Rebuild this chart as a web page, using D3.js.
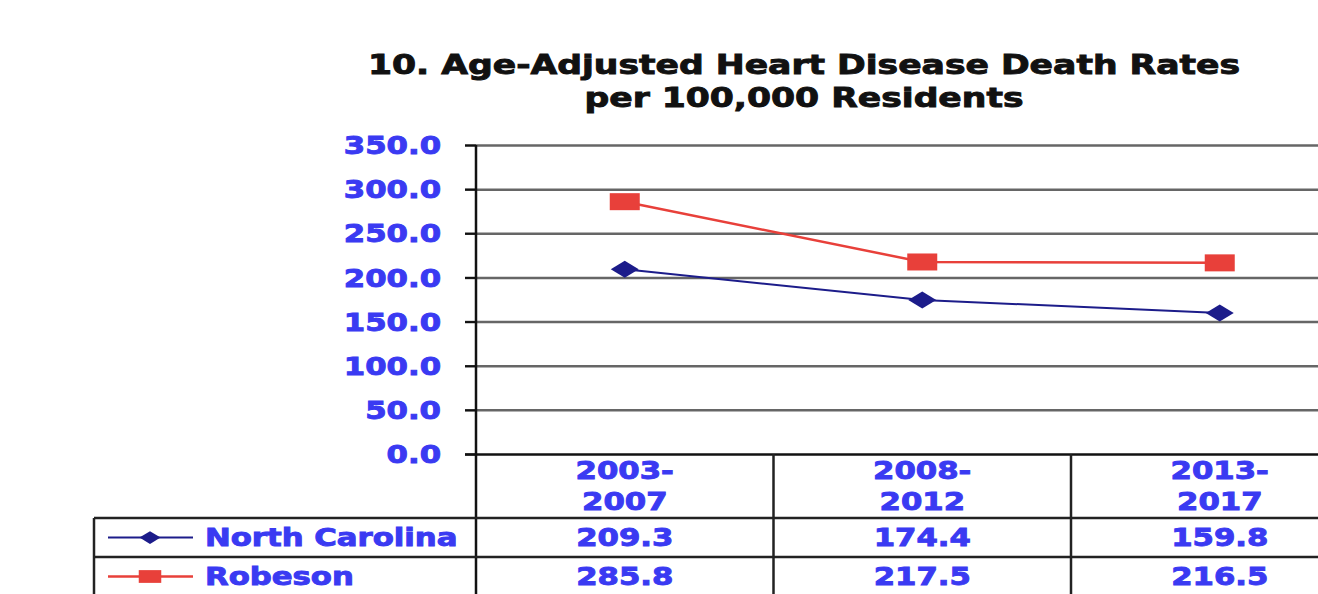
<!DOCTYPE html>
<html>
<head>
<meta charset="utf-8">
<script src="https://cdn.jsdelivr.net/npm/d3@7"></script>
<style>
  body { margin: 0; background: #fff; }
  text { font-family: "DejaVu Sans", Verdana, sans-serif; font-weight: bold; }
</style>
</head>
<body>
<div id="chart"></div>
<script>
// data
const categories = ["2003-2007", "2008-2012", "2013-2017"];
const northCarolina = [209.3, 174.4, 159.8];
const robeson = [285.8, 217.5, 216.5];
const yTicks = [0, 50, 100, 150, 200, 250, 300, 350];
const seriesNames = ["North Carolina", "Robeson"];
const titleLines = ["10. Age-Adjusted Heart Disease Death Rates", "per 100,000 Residents"];

const width = 1318, height = 594;
const blue = "#3a3af2";
const SX = 1.28; // the original is stretched sideways

// plot area
const plotLeft = 476, plotTop = 145, plotBottom = 454, colW = 297.5;
const tableLeft = 94, headH = 64, rowH = 39;

const svg = d3.select("#chart").append("svg")
    .attr("width", width)
    .attr("height", height);

// widen glyphs and make them a bit heavier, like the Verdana of the original
function stretch(sel) {
  sel.each(function() {
    const w = this.getComputedTextLength();
    this.setAttribute("textLength", w * SX);
    this.setAttribute("lengthAdjust", "spacingAndGlyphs");
    this.style.stroke = this.style.fill;
    this.style.strokeWidth = "0.9px";
  });
}

var x = d3.scaleBand()
    .domain(categories)
    .range([plotLeft, plotLeft + colW * categories.length]);

var y = d3.scaleLinear()
    .domain([0, 350])
    .range([plotBottom, plotTop]);

// title
svg.selectAll(".title")
  .data(titleLines)
  .enter().append("text")
    .attr("x", 804)
    .attr("y", (d, i) => 74 + i * 33)
    .attr("text-anchor", "middle")
    .style("font-size", "27px")
    .style("fill", "#111")
    .text(d => d)
    .call(stretch);

// gridlines
svg.append("g")
    .attr("transform", "translate(" + (plotLeft - 11) + ",0)")
    .call(d3.axisRight(y).tickValues(yTicks).tickSize(width).tickFormat(""))
    .call(g => g.select(".domain").remove())
    .selectAll("line")
      .attr("stroke", d => d === 0 ? "#111" : "#666")
      .attr("stroke-width", 2.5);

// y axis
var yAxis = svg.append("g")
    .attr("transform", "translate(" + plotLeft + ",0)")
    .call(d3.axisLeft(y).tickValues(yTicks).tickSize(11).tickFormat(d3.format(".1f")));
yAxis.select(".domain").remove();
yAxis.selectAll("line").attr("stroke", "#111").attr("stroke-width", 2);
yAxis.selectAll("text")
    .attr("x", -35)
    .attr("dy", "0.36em")
    .style("font-size", "24px")
    .style("font-family", "DejaVu Sans")
    .style("fill", blue)
    .call(stretch);

// axis line runs down through the table
svg.append("line")
    .attr("x1", plotLeft).attr("x2", plotLeft)
    .attr("y1", plotTop).attr("y2", height)
    .attr("stroke", "#111").attr("stroke-width", 2.5);

// table grid
const rowLines = [plotBottom + headH, plotBottom + headH + rowH, plotBottom + headH + 2 * rowH];
svg.selectAll(".rowline")
  .data(rowLines)
  .enter().append("line")
    .attr("x1", tableLeft).attr("x2", width)
    .attr("y1", d => d).attr("y2", d => d)
    .attr("stroke", "#222").attr("stroke-width", 2.5);

svg.append("line")
    .attr("x1", tableLeft).attr("x2", tableLeft)
    .attr("y1", plotBottom + headH).attr("y2", height)
    .attr("stroke", "#222").attr("stroke-width", 2.5);

svg.selectAll(".colline")
  .data(categories.slice(1))
  .enter().append("line")
    .attr("x1", d => x(d)).attr("x2", d => x(d))
    .attr("y1", plotBottom).attr("y2", height)
    .attr("stroke", "#222").attr("stroke-width", 2.5);

// category labels, two lines each
categories.forEach(function(c) {
  const parts = c.split("-");
  const t = svg.append("g");
  t.selectAll("text")
    .data([parts[0] + "-", parts[1]])
    .enter().append("text")
      .attr("x", x(c) + x.bandwidth() / 2)
      .attr("y", (d, i) => plotBottom + 25 + i * 31)
      .attr("text-anchor", "middle")
      .style("font-size", "24px")
      .style("fill", blue)
      .text(d => d)
      .call(stretch);
});

// series
const series = [
  { name: seriesNames[0], values: northCarolina, color: "#1c1c8a", lw: 2, shape: "diamond" },
  { name: seriesNames[1], values: robeson, color: "#e8403a", lw: 2.5, shape: "square" }
];

function marker(g, shape, color) {
  if (shape === "square") {
    g.append("rect")
      .attr("x", -15).attr("y", -8.5)
      .attr("width", 30).attr("height", 17)
      .attr("fill", color);
  } else {
    g.append("path")
      .attr("d", "M-14,0L0,-8.5L14,0L0,8.5Z")
      .attr("fill", color);
  }
}

var line = d3.line()
    .x((d, i) => x(categories[i]) + x.bandwidth() / 2)
    .y(d => y(d));

series.forEach(function(s, k) {
  svg.append("path")
    .datum(s.values)
    .attr("d", line)
    .attr("fill", "none")
    .attr("stroke", s.color)
    .attr("stroke-width", s.lw);

  s.values.forEach(function(v, i) {
    const g = svg.append("g")
      .attr("transform", "translate(" + (x(categories[i]) + x.bandwidth() / 2) + "," + y(v) + ")");
    marker(g, s.shape, s.color);
  });

  // table row
  const cy = plotBottom + headH + rowH * k + rowH / 2;
  svg.append("line")
    .attr("x1", 108).attr("x2", 193)
    .attr("y1", cy).attr("y2", cy)
    .attr("stroke", s.color).attr("stroke-width", s.lw);
  const lg = svg.append("g").attr("transform", "translate(150," + cy + ") scale(0.75)");
  marker(lg, s.shape, s.color);

  svg.append("text")
    .attr("x", 205)
    .attr("y", cy)
    .attr("dy", "0.36em")
    .style("font-size", "24px")
    .style("fill", blue)
    .text(s.name)
    .call(stretch);

  svg.selectAll(".val" + k)
    .data(s.values)
    .enter().append("text")
      .attr("x", (d, i) => x(categories[i]) + x.bandwidth() / 2)
      .attr("y", cy)
      .attr("dy", "0.36em")
      .attr("text-anchor", "middle")
      .style("font-size", "24px")
      .style("fill", blue)
      .text(d => d3.format(".1f")(d))
      .call(stretch);
});
</script>
</body>
</html>
